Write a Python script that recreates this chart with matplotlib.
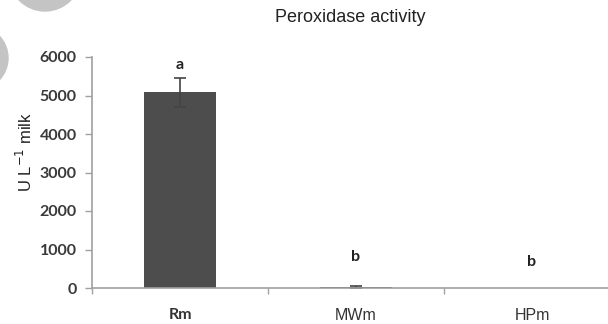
import matplotlib
matplotlib.use("Agg")
import matplotlib.pyplot as plt
from matplotlib.patches import Circle

# data
categories = ["Rm", "MWm", "HPm"]
values = [5080, 20, 5]
errors = [370, 40, 0]
letters = ["a", "b", "b"]
letter_y = [5800, 800, 680]

fig = plt.figure(figsize=(6.08, 3.24), dpi=100)

# grey circles in the top left corner (inches)
fig.patches.append(Circle((0.45, 3.24 + 0.25), 0.36, transform=fig.dpi_scale_trans,
                          color="#c4c4c4", zorder=0))
fig.patches.append(Circle((-0.24, 3.24 - 0.58), 0.32, transform=fig.dpi_scale_trans,
                          color="#c4c4c4", zorder=0))

ax = fig.add_axes([92 / 608, 1 - 288 / 324, 528 / 608, (288 - 57) / 324])
x = list(range(len(categories)))
ax.bar(x, values, width=0.41, color="#4d4d4d", linewidth=0)
# error bars only where there is an error
has_err = [i for i in x if errors[i] > 0]
ax.errorbar([x[i] for i in has_err], [values[i] for i in has_err],
            yerr=[errors[i] for i in has_err], fmt="none", ecolor="#444444",
            elinewidth=1.2, capsize=4, capthick=1.2)

for i, t in enumerate(letters):
    ax.text(i, letter_y[i], t, ha="center", va="center", fontsize=11.5,
            fontweight="bold", family="Lato", color="#222222")

ax.set_xlim(-0.5, 2.5)
ax.set_ylim(0, 6000)
ax.set_yticks(range(0, 6001, 1000))
ax.set_yticklabels([str(v) for v in range(0, 6001, 1000)], family="Lato",
                   fontweight="bold", fontsize=11.5, color="#3a3a3a")
ax.set_xticks([-0.5, 0.5, 1.5, 2.5])
ax.set_xticklabels([])
ax.tick_params(axis="y", length=5, width=1, color="#a0a0a0", pad=6)
ax.tick_params(axis="x", length=4, width=1, color="#a0a0a0")

for i, c in enumerate(categories):
    ax.text(i, -0.118, c, transform=ax.get_xaxis_transform(), ha="center", va="center",
            fontsize=11.5, family="Lato" if i == 0 else "Liberation Sans",
            fontweight="bold" if i == 0 else "normal", color="#333333")

for s in ["top", "right"]:
    ax.spines[s].set_visible(False)
for s in ["left", "bottom"]:
    ax.spines[s].set_color("#a0a0a0")
    ax.spines[s].set_linewidth(1.2)

fig.text(25 / 608, 1 - 152 / 324, "U L$^{-1}$ milk", rotation=90, ha="center",
         va="center", family="Liberation Sans", fontsize=12, color="#222222")
fig.text(350 / 608, 1 - 17 / 324, "Peroxidase activity", ha="center", va="center",
         family="Liberation Sans", fontsize=13, color="#222222")

fig.savefig("out.png", dpi=100)
